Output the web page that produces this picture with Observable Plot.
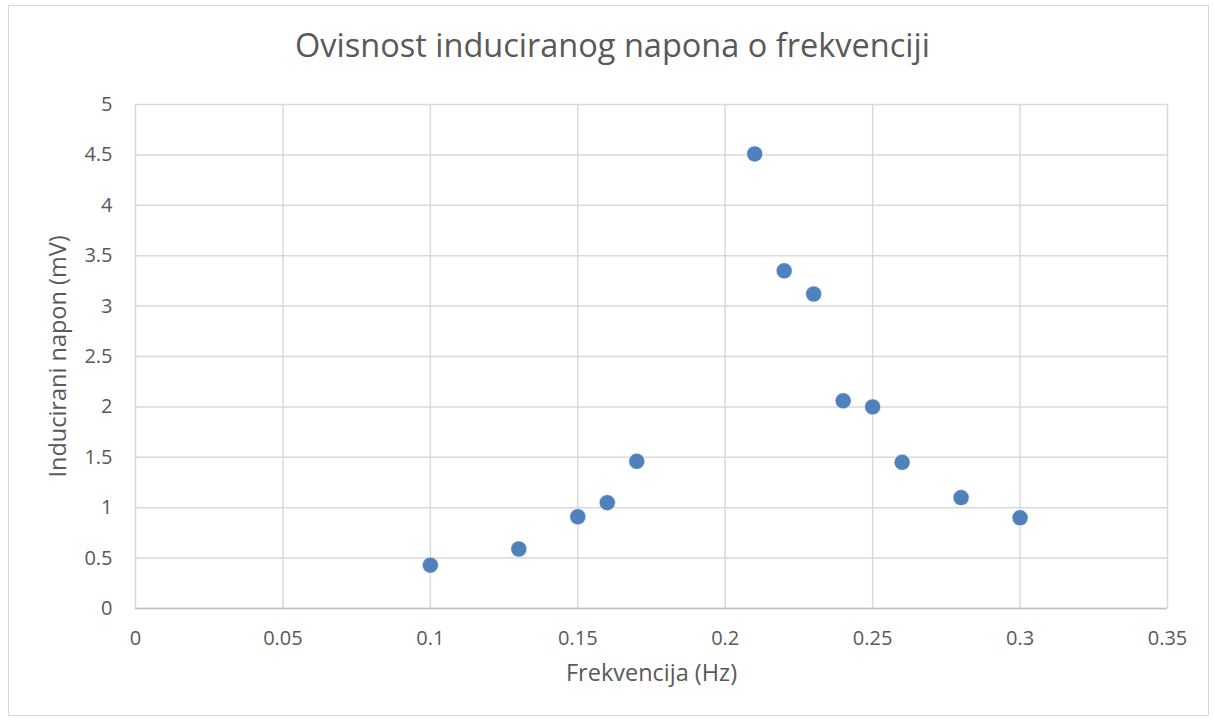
<!DOCTYPE html>
<html>
<head>
<meta charset="utf-8">
<script src="https://cdn.jsdelivr.net/npm/d3@7"></script>
<script src="https://cdn.jsdelivr.net/npm/@observablehq/plot@0.6"></script>
<style>
  html, body { margin: 0; padding: 0; background: #fff; }
  #wrap { position: relative; width: 1215px; height: 722px; overflow: hidden; font-family: "Open Sans", sans-serif; }
  #frame { position: absolute; left: 8px; top: 5px; width: 1201px; height: 711px; border: 1px solid #d9d9d9; box-sizing: border-box; pointer-events: none; }
  #title { position: absolute; left: 0; top: 22px; width: 1225px; text-align: center; font-size: 32.5px; color: #595959; }
  #chart { position: absolute; left: 0; top: 0; }
</style>
</head>
<body>
<div id="wrap">
  <div id="frame"></div>
  <div id="chart"></div>
  <div id="title">Ovisnost induciranog napona o frekvenciji</div>
</div>
<script>
const frequency = [0.10, 0.13, 0.15, 0.16, 0.17, 0.21, 0.22, 0.23, 0.24, 0.25, 0.26, 0.28, 0.30];
const voltage   = [0.43, 0.59, 0.91, 1.05, 1.46, 4.51, 3.35, 3.12, 2.06, 2.00, 1.45, 1.10, 0.90];
const xTicks = [0, 0.05, 0.1, 0.15, 0.2, 0.25, 0.3, 0.35];
const yTicks = [0, 0.5, 1, 1.5, 2, 2.5, 3, 3.5, 4, 4.5, 5];
const xLabel = "Frekvencija (Hz)";
const yLabel = "Inducirani napon (mV)";

const data = frequency.map((f, i) => ({f, v: voltage[i]}));
const fmt = d => String(d);

const chart = Plot.plot({
  width: 1215,
  height: 722,
  marginLeft: 135,
  marginRight: 48,
  marginTop: 104,
  marginBottom: 114,
  style: {fontFamily: "Open Sans, sans-serif", fontSize: "20px", color: "#595959", background: "transparent"},
  x: {domain: [0, 0.35], ticks: xTicks, tickFormat: fmt, tickSize: 0, tickPadding: 22, label: null},
  y: {domain: [0, 5], ticks: yTicks, tickFormat: fmt, tickSize: 0, tickPadding: 23, label: null},
  marks: [
    Plot.gridX(xTicks, {stroke: "#d9d9d9", strokeOpacity: 1, strokeWidth: 1.5}),
    Plot.gridY(yTicks, {stroke: "#d9d9d9", strokeOpacity: 1, strokeWidth: 1.5}),
    Plot.ruleY([0], {stroke: "#bfbfbf", strokeWidth: 1.5}),
    Plot.axisX(xTicks, {tickSize: 0, tickPadding: 22, tickFormat: fmt, fill: "#595959", fontSize: 20, label: null}),
    Plot.axisY(yTicks, {tickSize: 0, tickPadding: 23, tickFormat: fmt, fill: "#595959", fontSize: 20, label: null}),
    Plot.dot(data, {x: "f", y: "v", r: 8, fill: "#4f81bd", stroke: "white", strokeWidth: 0.5}),
    Plot.text([xLabel], {frameAnchor: "bottom", dy: 72, fontSize: 23.5, fill: "#595959", textAnchor: "middle"}),
    Plot.text([yLabel], {frameAnchor: "left", dx: -77, rotate: -90, fontSize: 23.5, fill: "#595959", textAnchor: "middle"})
  ]
});
document.getElementById("chart").appendChild(chart);
</script>
</body>
</html>
